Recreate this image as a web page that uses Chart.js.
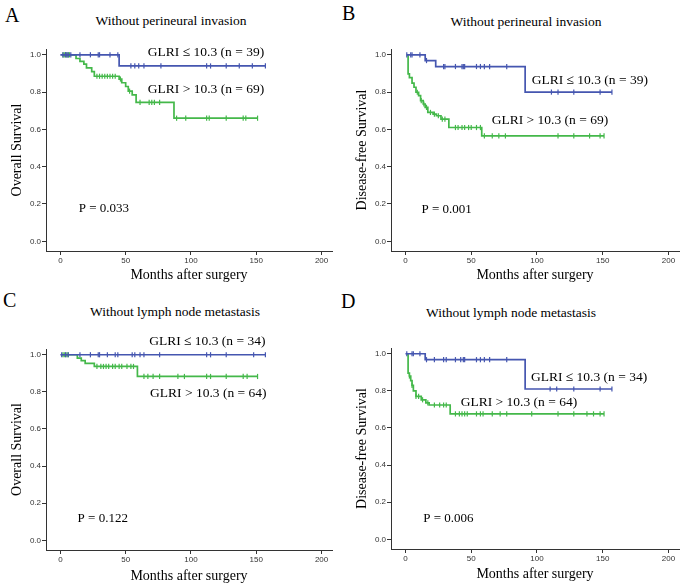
<!DOCTYPE html>
<html>
<head>
<meta charset="utf-8">
<script src="https://cdn.jsdelivr.net/npm/chart.js@4.4.1/dist/chart.umd.min.js"></script>
<style>
  body { margin: 0; background: #fff; width: 685px; height: 588px; position: relative; overflow: hidden; }
  canvas { position: absolute; }
  .tag { position: absolute; font: 20px "Liberation Serif", "Times New Roman", serif; line-height: 20px; color: #000; }
  .ttl { position: absolute; font: 13.5px "Liberation Serif", "Times New Roman", serif; line-height: 16px; color: #000; transform: translateX(-50%); white-space: nowrap; }
</style>
</head>
<body>
<div class="tag" style="left:5px;top:5px">A</div>
<div class="tag" style="left:342px;top:3px">B</div>
<div class="tag" style="left:3px;top:290px">C</div>
<div class="tag" style="left:341px;top:291px">D</div>
<div class="ttl" style="left:171px;top:13px">Without perineural invasion</div>
<div class="ttl" style="left:526px;top:14px">Without perineural invasion</div>
<div class="ttl" style="left:175px;top:304px">Without lymph node metastasis</div>
<div class="ttl" style="left:511px;top:305px">Without lymph node metastasis</div>
<canvas id="pA" width="342" height="290" style="left:0;top:0"></canvas>
<canvas id="pB" width="340" height="290" style="left:345px;top:0"></canvas>
<canvas id="pC" width="342" height="297" style="left:0;top:291px"></canvas>
<canvas id="pD" width="340" height="297" style="left:345px;top:291px"></canvas>
<script>
const xTicks = [0, 50, 100, 150, 200];
const yTicks = [0, 0.2, 0.4, 0.6, 0.8, 1.0];

// A - overall survival, without perineural invasion
const aLowT = [0, 45, 157];
const aLowS = [1, 0.94, 0.94];
const aLowC = [2, 4, 5, 6, 8, 15, 23, 29, 30, 38, 44, 54, 57, 60, 64, 77, 112, 115, 127, 137, 147, 157];
const aHighT = [1, 12, 15, 18, 20, 24, 26, 45, 47, 50, 52, 55, 58, 87, 151];
const aHighS = [1, 0.98, 0.965, 0.95, 0.93, 0.91, 0.885, 0.87, 0.85, 0.83, 0.805, 0.785, 0.745, 0.66, 0.66];
const aHighC = [2, 3, 4, 5, 6, 7, 28, 30, 32, 34, 36, 38, 40, 42, 46, 53, 61, 68, 70, 72, 76, 89, 96, 112, 114, 127, 140, 142, 151];

// B - disease-free survival, without perineural invasion
const bLowT = [1, 15, 23, 91, 157];
const bLowS = [1, 0.969, 0.937, 0.80, 0.80];
const bLowC = [1, 4, 5, 11, 16, 29, 30, 38, 43, 44, 45, 54, 57, 60, 64, 77, 111, 116, 128, 148, 157];
const bHighT = [1, 2, 3, 5, 6.5, 8, 10, 11.5, 13.5, 15, 17, 21, 23.5, 27, 33, 58, 151];
const bHighS = [1, 0.898, 0.877, 0.848, 0.826, 0.799, 0.781, 0.754, 0.736, 0.718, 0.691, 0.682, 0.673, 0.655, 0.61, 0.565, 0.565];
const bHighC = [9, 12, 14, 16, 19, 22, 25, 28, 30, 38, 40, 43, 45, 48, 50, 54, 57, 60, 66, 71, 76, 116, 128, 140, 148, 151];

// C - overall survival, without lymph node metastasis
const cLowT = [0, 157];
const cLowS = [1, 1];
const cLowC = [1, 4, 6, 15, 23, 29, 30, 36, 42, 44, 55, 57, 61, 64, 76, 112, 115, 127, 148, 157];
const cHighT = [1, 13, 16, 19, 26, 59, 151];
const cHighS = [1, 0.982, 0.968, 0.954, 0.937, 0.883, 0.883];
const cHighC = [2, 3, 5, 6, 28, 31, 33, 35, 37, 40, 42, 45, 47, 51, 54, 56, 64, 67, 71, 76, 90, 95, 112, 115, 127, 140, 143, 151];

// D - disease-free survival, without lymph node metastasis
const dLowT = [0, 15, 91, 157];
const dLowS = [1, 0.968, 0.81, 0.81];
const dLowC = [1, 5, 6, 11, 16, 22, 29, 31, 38, 42, 44, 45, 54, 57, 60, 64, 77, 110, 115, 128, 148, 157];
const dHighT = [1, 2, 3, 4, 5, 6, 8, 12, 15.5, 18, 34, 151];
const dHighS = [1, 0.896, 0.88, 0.855, 0.83, 0.80, 0.77, 0.752, 0.735, 0.724, 0.676, 0.676];
const dHighC = [3, 5, 8, 10, 13, 17, 22, 26, 29, 31, 38, 41, 43, 45, 47, 54, 57, 59, 66, 72, 77, 96, 116, 128, 138, 143, 148, 151];

const blue = '#4556b0';
const green = '#44b84a';
const serif = '"Liberation Serif", "Times New Roman", serif';

// survival value of the step curve at time t (for censor marks)
const survAt = (times, surv, t) => {
  let s = surv[0];
  times.forEach((tt, i) => { if (tt <= t) s = surv[i]; });
  return s;
};

const curve = (times, surv, cens, color) => [
  {
    data: times.map((t, i) => ({ x: t, y: surv[i] })),
    borderColor: color, borderWidth: 1.7, stepped: 'before', pointRadius: 0, fill: false
  },
  {
    data: cens.map(t => ({ x: t, y: survAt(times, surv, t) })),
    showLine: false, pointStyle: 'line', pointRotation: 90, pointRadius: 2.6,
    pointBorderColor: color, pointBorderWidth: 1.2, borderColor: color
  }
];

const makePanel = (id, p) => {
  new Chart(document.getElementById(id), {
    type: 'line',
    data: { datasets: [...curve(p.lowT, p.lowS, p.lowC, blue), ...curve(p.highT, p.highS, p.highC, green)] },
    options: {
      responsive: false, animation: false, events: [],
      devicePixelRatio: 1,
      layout: { padding: p.pad },
      plugins: { legend: { display: false }, tooltip: { enabled: false } },
      scales: {
        x: {
          type: 'linear', min: -11, max: 208,
          afterBuildTicks: s => { s.ticks = xTicks.map(v => ({ value: v })); },
          afterFit: s => { s.height = 36; },
          grid: { drawOnChartArea: false, drawTicks: true, tickLength: 4, color: '#333' },
          border: { color: '#333', width: 1 },
          ticks: { font: { family: 'Liberation Sans', size: 8 }, color: '#333', padding: 1, maxRotation: 0, autoSkip: false },
          title: { display: true, text: 'Months after surgery', color: '#000', font: { family: serif, size: 14 }, padding: { top: 0, bottom: p.xtPad } }
        },
        y: {
          min: -0.052, max: 1.031,
          afterBuildTicks: s => { s.ticks = yTicks.map(v => ({ value: v })); },
          afterFit: s => { s.width = 40; },
          grid: { drawOnChartArea: false, drawTicks: true, tickLength: 4, color: '#333' },
          border: { color: '#333', width: 1 },
          ticks: { font: { family: 'Liberation Sans', size: 8 }, color: '#333', padding: 1, callback: v => v.toFixed(1) },
          title: { display: true, text: p.yTitle, color: '#000', font: { family: serif, size: 14 }, padding: { top: 3, bottom: 0 } }
        }
      }
    },
    plugins: [{
      id: 'notes',
      afterDatasetsDraw(chart) {
        const { ctx, scales: { x, y } } = chart;
        ctx.save();
        ctx.fillStyle = '#000';
        ctx.textAlign = 'left';
        ctx.textBaseline = 'middle';
        p.notes.forEach(n => {
          ctx.font = n.size + 'px ' + serif;
          ctx.fillText(n.text, x.getPixelForValue(n.x), y.getPixelForValue(n.y));
        });
        ctx.restore();
      }
    }]
  });
};

makePanel('pA', {
  lowT: aLowT, lowS: aLowS, lowC: aLowC, highT: aHighT, highS: aHighS, highC: aHighC,
  yTitle: 'Overall Survival', pad: { left: 6, top: 49, right: 10, bottom: 3 }, xtPad: 3,
  notes: [
    { text: 'GLRI \u2264 10.3 (n = 39)', x: 67, y: 1.012, size: 13.5 },
    { text: 'GLRI > 10.3 (n = 69)', x: 67, y: 0.812, size: 13.5 },
    { text: 'P = 0.033', x: 14, y: 0.176, size: 13 }
  ]
});
makePanel('pB', {
  lowT: bLowT, lowS: bLowS, lowC: bLowC, highT: bHighT, highS: bHighS, highC: bHighC,
  yTitle: 'Disease-free Survival', pad: { left: 6, top: 49, right: 6, bottom: 3 }, xtPad: 3,
  notes: [
    { text: 'GLRI \u2264 10.3 (n = 39)', x: 96, y: 0.865, size: 13.5 },
    { text: 'GLRI > 10.3 (n = 69)', x: 65.6, y: 0.646, size: 13.5 },
    { text: 'P = 0.001', x: 12.2, y: 0.171, size: 13 }
  ]
});
makePanel('pC', {
  lowT: cLowT, lowS: cLowS, lowC: cLowC, highT: cHighT, highS: cHighS, highC: cHighC,
  yTitle: 'Overall Survival', pad: { left: 6, top: 58, right: 10, bottom: 2 }, xtPad: 1,
  notes: [
    { text: 'GLRI \u2264 10.3 (n = 34)', x: 68, y: 1.072, size: 13.5 },
    { text: 'GLRI > 10.3 (n = 64)', x: 68.7, y: 0.793, size: 13.5 },
    { text: 'P = 0.122', x: 13.2, y: 0.117, size: 13 }
  ]
});
makePanel('pD', {
  lowT: dLowT, lowS: dLowS, lowC: dLowC, highT: dHighT, highS: dHighS, highC: dHighC,
  yTitle: 'Disease-free Survival', pad: { left: 6, top: 57, right: 6, bottom: 3 }, xtPad: 2,
  notes: [
    { text: 'GLRI \u2264 10.3 (n = 34)', x: 95.4, y: 0.874, size: 13.5 },
    { text: 'GLRI > 10.3 (n = 64)', x: 42, y: 0.737, size: 13.5 },
    { text: 'P = 0.006', x: 13.5, y: 0.113, size: 13 }
  ]
});
</script>
</body>
</html>
